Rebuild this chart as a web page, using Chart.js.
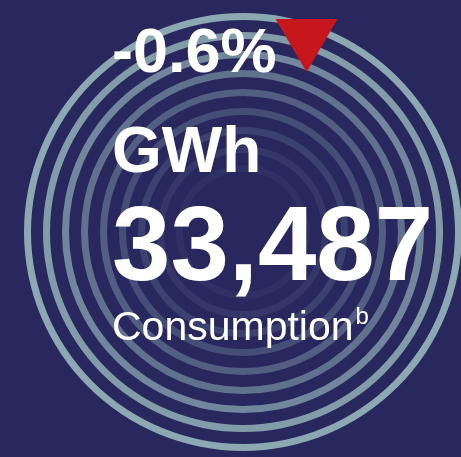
<!DOCTYPE html>
<html>
<head>
<meta charset="utf-8">
<script src="https://cdn.jsdelivr.net/npm/chart.js@4/dist/chart.umd.min.js"></script>
<style>
  html, body { margin: 0; padding: 0; background: #28285e; overflow: hidden; }
  #wrap { position: absolute; left: 0; top: 0; width: 480px; height: 457px; }
</style>
</head>
<body>
<div id="wrap"><canvas id="kpi"></canvas></div>
<script>
// Datos del indicador
const unidad = 'GWh';
const valor = 33487;
const variacion = -0.6;
const etiqueta = 'Consumption';
const nota = 'b';

// Opacidad de cada anillo (de fuera hacia dentro)
const opacidades = [1, 0.9, 0.74, 0.58, 0.43, 0.3, 0.2, 0.12, 0.07];
const colorAnillo = '140, 168, 179';

const datasets = [];
opacidades.forEach((a, i) => {
    datasets.push({
        data: [1],
        backgroundColor: 'rgba(' + colorAnillo + ', ' + a + ')',
        borderWidth: 0,
        weight: 7
    });
    if (i < opacidades.length - 1) {
        datasets.push({
            data: [1],
            backgroundColor: 'rgba(0,0,0,0)',
            borderWidth: 0,
            weight: 12
        });
    }
});

// Textos encima de los anillos
const textos = {
    id: 'textos',
    afterDraw(chart) {
        const ctx = chart.ctx;
        const x = 112;
        ctx.save();
        ctx.fillStyle = '#ffffff';
        ctx.textBaseline = 'alphabetic';
        ctx.textAlign = 'left';

        const txtVar = (variacion > 0 ? '+' : '') + variacion.toFixed(1) + '%';
        ctx.font = 'bold 63px "Liberation Sans", Arial, sans-serif';
        ctx.fillText(txtVar, x, 72);
        const w = ctx.measureText(txtVar).width;

        // triángulo rojo (baja)
        ctx.fillStyle = variacion < 0 ? '#c8161d' : '#2a9d3a';
        const tx = x + w - 1;
        ctx.beginPath();
        ctx.moveTo(tx, 19);
        ctx.lineTo(tx + 62, 19);
        ctx.lineTo(tx + 31, 72);
        ctx.closePath();
        ctx.fill();

        ctx.fillStyle = '#ffffff';
        ctx.font = 'bold 64px "Liberation Sans", Arial, sans-serif';
        ctx.fillText(unidad, x, 172);

        ctx.font = 'bold 105px "Liberation Sans", Arial, sans-serif';
        ctx.fillText(valor.toLocaleString('en-US'), x, 280);

        ctx.font = '41px "Liberation Sans", Arial, sans-serif';
        ctx.fillText(etiqueta, x, 340);
        const w2 = ctx.measureText(etiqueta).width;
        ctx.font = '24px "Liberation Sans", Arial, sans-serif';
        ctx.fillText(nota, x + w2 + 2, 324);
        ctx.restore();
    }
};

new Chart(document.getElementById('kpi'), {
    type: 'doughnut',
    data: { labels: [etiqueta], datasets: datasets },
    options: {
        responsive: true,
        maintainAspectRatio: false,
        animation: false,
        events: [],
        cutout: 60,
        layout: { padding: { left: 24, right: 18, top: 13, bottom: 6 } },
        plugins: {
            legend: { display: false },
            tooltip: { enabled: false }
        }
    },
    plugins: [textos]
});
</script>
</body>
</html>
